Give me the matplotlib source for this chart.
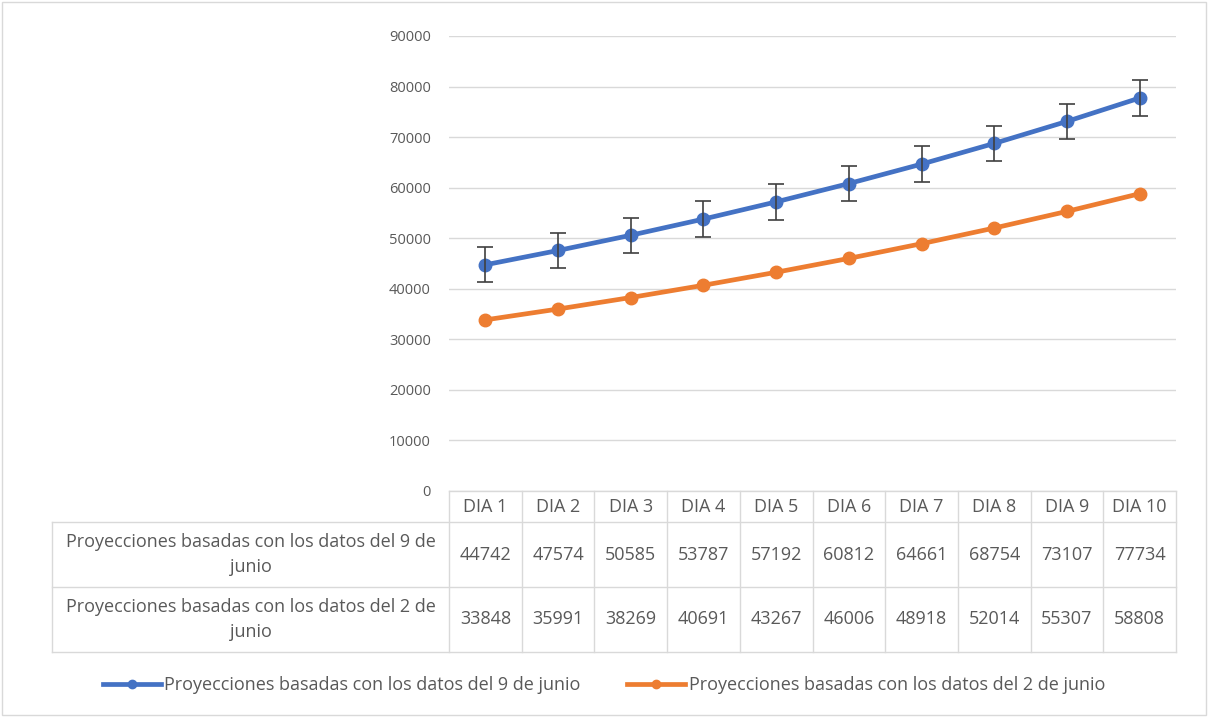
import numpy as np
import matplotlib
matplotlib.use("Agg")
import matplotlib.pyplot as plt
from matplotlib.patches import Rectangle

plt.rcParams['font.family'] = ['Open Sans', 'DejaVu Sans']

# datos
dias = ["DIA 1", "DIA 2", "DIA 3", "DIA 4", "DIA 5", "DIA 6", "DIA 7", "DIA 8", "DIA 9", "DIA 10"]
serie_9 = [44742, 47574, 50585, 53787, 57192, 60812, 64661, 68754, 73107, 77734]
serie_2 = [33848, 35991, 38269, 40691, 43267, 46006, 48918, 52014, 55307, 58808]
error_9 = 3500
nombre_9 = "Proyecciones basadas con los datos del 9 de junio"
nombre_2 = "Proyecciones basadas con los datos del 2 de junio"
etiquetas_filas = ["Proyecciones basadas con los datos del 9 de\njunio",
                   "Proyecciones basadas con los datos del 2 de\njunio"]
yticks = [0, 10000, 20000, 30000, 40000, 50000, 60000, 70000, 80000, 90000]

azul = "#4472C4"
naranja = "#ED7D31"
gris_txt = "#595959"
gris_lin = "#D9D9D9"
fs_tab = 13

W, H = 1208, 717
fig = plt.figure(figsize=(W / 100, H / 100), dpi=100)

# borde del grafico
fig.add_artist(Rectangle((2 / W, 2 / H), 1 - 4 / W, 1 - 4 / H, transform=fig.transFigure,
                         fill=False, edgecolor=gris_lin, linewidth=1))

def caja(x0, y0, x1, y1):
    # pixeles (origen arriba a la izquierda) -> fraccion de figura
    return [x0 / W, 1 - y1 / H, (x1 - x0) / W, (y1 - y0) / H]

# ------------------------------
# grafico de lineas
# ------------------------------
ax = fig.add_axes(caja(449, 36, 1176, 491))
x = np.arange(len(dias))
ax.plot(x, serie_9, color=azul, linewidth=3.4, marker="o", markersize=9,
        solid_capstyle="round", zorder=3)
ax.errorbar(x, serie_9, yerr=error_9, fmt="none", ecolor="#404040", elinewidth=1.2,
            capsize=6, capthick=1.2, zorder=4)
ax.plot(x, serie_2, color=naranja, linewidth=3.4, marker="o", markersize=9,
        solid_capstyle="round", zorder=3)
ax.set_xlim(-0.5, len(dias) - 0.5)
ax.set_ylim(0, 90000)
ax.set_yticks(yticks)
ax.set_yticklabels([str(v) for v in yticks], color=gris_txt, fontsize=10.5)
ax.tick_params(axis="y", length=0, pad=13)
ax.set_xticks([])
ax.grid(axis="y", color=gris_lin, linewidth=1)
ax.set_axisbelow(True)
for s in ax.spines.values():
    s.set_visible(False)

# ------------------------------
# tabla de datos
# ------------------------------
ancho_col = 727 / len(dias)
ancho_lbl = (449 - 52) / ancho_col
tab = fig.add_axes(caja(52, 491, 1176, 652))
tab.set_xlim(-0.5 - ancho_lbl, len(dias) - 0.5)
tab.set_ylim(161, 0)
tab.axis("off")

filas_y = [0, 31, 96, 161]
kw = dict(color=gris_lin, linewidth=1, clip_on=False)
# lineas horizontales
tab.plot([-0.5, len(dias) - 0.5], [0, 0], **kw)
for yy in filas_y[1:]:
    tab.plot([-0.5 - ancho_lbl, len(dias) - 0.5], [yy, yy], **kw)
# lineas verticales
tab.plot([-0.5 - ancho_lbl] * 2, [31, 161], **kw)
for i in range(len(dias) + 1):
    tab.plot([i - 0.5] * 2, [0, 161], **kw)

for i, d in enumerate(dias):
    tab.text(i, 15.5, d, ha="center", va="center", fontsize=fs_tab, color=gris_txt)
for fila, valores in enumerate([serie_9, serie_2]):
    yc = (filas_y[fila + 1] + filas_y[fila + 2]) / 2
    tab.text(-0.5 - ancho_lbl / 2, yc, etiquetas_filas[fila], ha="center", va="center",
             multialignment="center", fontsize=fs_tab, color=gris_txt, linespacing=1.5)
    for i, v in enumerate(valores):
        tab.text(i, yc, str(v), ha="center", va="center", fontsize=fs_tab, color=gris_txt)

# ------------------------------
# leyenda
# ------------------------------
h1, = ax.plot([], [], color=azul, linewidth=3.4, marker="o", markersize=6)
h2, = ax.plot([], [], color=naranja, linewidth=3.4, marker="o", markersize=6)
fig.legend([h1, h2], [nombre_9, nombre_2], loc="center", bbox_to_anchor=(0.5, 1 - 685 / H),
           ncol=2, frameon=False, fontsize=fs_tab, labelcolor=gris_txt, handlelength=3.2,
           handletextpad=0.2, columnspacing=2.6)

fig.savefig("out.png", dpi=100)
